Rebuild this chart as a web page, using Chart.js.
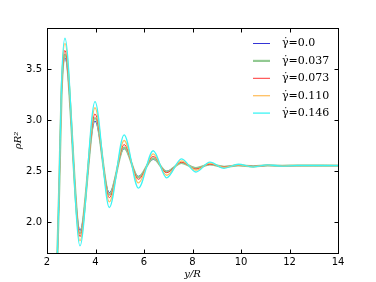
<!DOCTYPE html>
<html>
<head>
<meta charset="utf-8">
<script src="https://cdn.jsdelivr.net/npm/chart.js@4.4.0/dist/chart.umd.min.js"></script>
<style>
html, body { margin: 0; padding: 0; background: #fff; }
</style>
</head>
<body>
<canvas id="rho_chart" width="376" height="282"></canvas>
<script>
// y/R positions (shared by all curves)
var yOverR = [2.30, 2.43, 2.51, 2.60, 2.74, 3.36, 3.98, 4.57, 5.18, 5.77, 6.38, 6.93, 7.55, 8.14, 8.72, 9.30, 9.89, 10.5, 11.1, 11.7, 12.3, 14.0];

var rateLabels = ['γ̇=0.0', 'γ̇=0.037', 'γ̇=0.073', 'γ̇=0.110', 'γ̇=0.146'];

var rho000 = [0.9, 1.7, 2.40, 3.25, 3.61, 1.92, 2.99, 2.29, 2.72, 2.45, 2.615, 2.500, 2.580, 2.533, 2.565, 2.545, 2.556, 2.549, 2.555, 2.553, 2.555, 2.555];
var rho037 = [0.9, 1.7, 2.40, 3.27, 3.64, 1.895, 3.02, 2.27, 2.73, 2.44, 2.625, 2.495, 2.582, 2.530, 2.566, 2.543, 2.557, 2.548, 2.556, 2.553, 2.555, 2.555];
var rho073 = [0.9, 1.7, 2.42, 3.30, 3.68, 1.86, 3.06, 2.24, 2.76, 2.42, 2.645, 2.485, 2.588, 2.520, 2.570, 2.540, 2.560, 2.546, 2.557, 2.552, 2.555, 2.555];
var rho110 = [0.9, 1.7, 2.44, 3.33, 3.75, 1.82, 3.12, 2.20, 2.80, 2.385, 2.670, 2.460, 2.600, 2.510, 2.578, 2.535, 2.563, 2.543, 2.559, 2.551, 2.556, 2.555];
var rho146 = [0.9, 1.7, 2.46, 3.37, 3.80, 1.77, 3.18, 2.145, 2.855, 2.335, 2.700, 2.435, 2.620, 2.492, 2.588, 2.528, 2.568, 2.540, 2.562, 2.549, 2.556, 2.555];

var xTicks = [2, 4, 6, 8, 10, 12, 14];
var yTicks = [2.0, 2.5, 3.0, 3.5];

var lineColors = ['#3434d6', '#92c992', '#ff3434', '#ffc062', '#3cf4f4'];
var lineWidths = [1, 2.2, 1, 1.3, 1.3];

function toPoints(vals) {
    return vals.map(function (v, i) { return { x: yOverR[i], y: v }; });
}

var series = [rho000, rho037, rho073, rho110, rho146];
var datasets = series.map(function (vals, i) {
    return {
        label: rateLabels[i],
        data: toPoints(vals),
        borderColor: lineColors[i],
        borderWidth: lineWidths[i],
        pointRadius: 0,
        fill: false,
        cubicInterpolationMode: 'monotone',
        order: series.length - i
    };
});

// frame with inward ticks on all four sides, like matplotlib
var framePlugin = {
    id: 'frame',
    afterDraw: function (chart) {
        var ctx = chart.ctx, a = chart.chartArea;
        var xs = chart.scales.x, ys = chart.scales.y;
        var L = Math.round(a.left) + 0.5, R = Math.round(a.right) + 0.5;
        var T = Math.round(a.top) + 0.5, B = Math.round(a.bottom) + 0.5;
        ctx.save();
        ctx.strokeStyle = '#000';
        ctx.lineWidth = 1;
        ctx.strokeRect(L, T, R - L, B - T);
        ctx.beginPath();
        xTicks.forEach(function (v) {
            var px = Math.round(xs.getPixelForValue(v)) + 0.5;
            ctx.moveTo(px, B); ctx.lineTo(px, B - 4);
            ctx.moveTo(px, T); ctx.lineTo(px, T + 4);
        });
        yTicks.forEach(function (v) {
            var py = Math.round(ys.getPixelForValue(v)) + 0.5;
            ctx.moveTo(L, py); ctx.lineTo(L + 4, py);
            ctx.moveTo(R, py); ctx.lineTo(R - 4, py);
        });
        ctx.stroke();
        ctx.restore();
    }
};

// frameless legend in the upper right corner
var legendPlugin = {
    id: 'cornerLegend',
    afterDatasetsDraw: function (chart) {
        var ctx = chart.ctx, a = chart.chartArea;
        ctx.save();
        ctx.font = '11px "DejaVu Serif"';
        ctx.textBaseline = 'middle';
        ctx.textAlign = 'left';
        chart.data.datasets.forEach(function (ds, i) {
            var y = a.top + 15.5 + i * 17.4;
            ctx.strokeStyle = ds.borderColor;
            ctx.lineWidth = ds.borderWidth;
            ctx.beginPath();
            ctx.moveTo(a.right - 85, y);
            ctx.lineTo(a.right - 68, y);
            ctx.stroke();
            ctx.fillStyle = '#000';
            ctx.fillText(ds.label, a.right - 56, y);
        });
        ctx.restore();
    }
};

var config = {
    type: 'line',
    data: { datasets: datasets },
    options: {
        responsive: false,
        animation: false,
        layout: { padding: { left: 0, top: 28, right: 38, bottom: 0 } },
        plugins: {
            legend: { display: false },
            tooltip: { enabled: false }
        },
        scales: {
            x: {
                type: 'linear',
                min: 2,
                max: 14,
                grid: { display: false, drawTicks: false },
                border: { display: false },
                afterBuildTicks: function (s) { s.ticks = xTicks.map(function (v) { return { value: v }; }); },
                afterFit: function (s) { s.height = 29; },
                ticks: {
                    padding: 3,
                    color: '#000',
                    font: { family: 'DejaVu Sans', size: 10 },
                    maxRotation: 0,
                    callback: function (v) { return String(v); }
                },
                title: {
                    display: true,
                    text: 'y/R',
                    color: '#000',
                    padding: { top: 0, bottom: 2 },
                    font: { family: 'DejaVu Serif', size: 10, style: 'italic' }
                }
            },
            y: {
                type: 'linear',
                min: 1.7,
                max: 3.9,
                grid: { display: false, drawTicks: false },
                border: { display: false },
                afterBuildTicks: function (s) { s.ticks = yTicks.map(function (v) { return { value: v }; }); },
                afterFit: function (s) { s.width = 47; },
                ticks: {
                    padding: 5,
                    color: '#000',
                    font: { family: 'DejaVu Sans', size: 10 },
                    callback: function (v) { return Number(v).toFixed(1); }
                },
                title: {
                    display: true,
                    text: 'ρR²',
                    color: '#000',
                    padding: { top: 12, bottom: 0 },
                    font: { family: 'DejaVu Serif', size: 10, style: 'italic' }
                }
            }
        }
    },
    plugins: [legendPlugin, framePlugin]
};

window.onload = function () {
    var ctx = document.getElementById('rho_chart').getContext('2d');
    window.rhoChart = new Chart(ctx, config);
};
</script>
</body>
</html>
